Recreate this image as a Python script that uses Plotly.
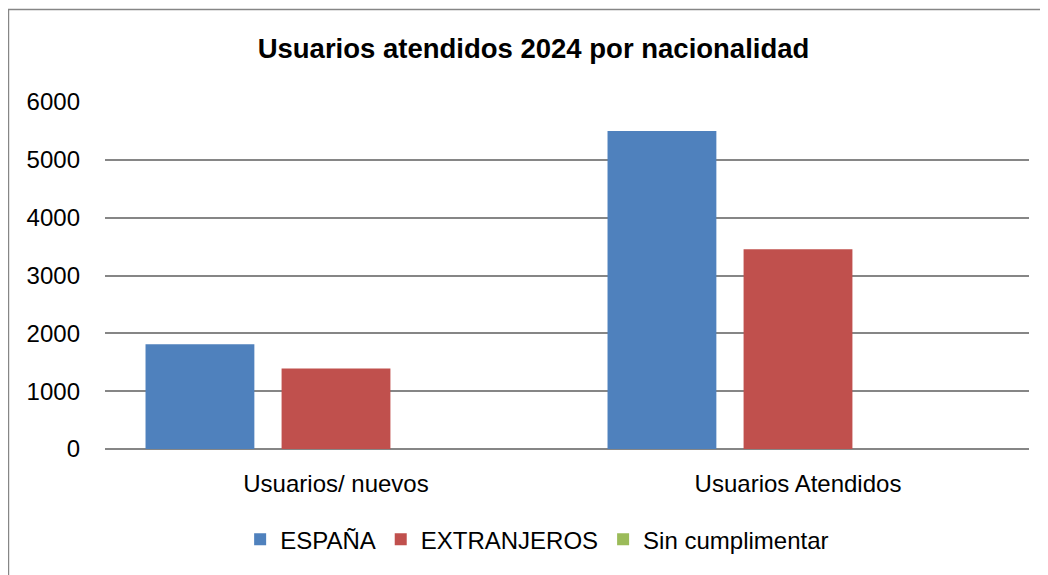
import plotly.graph_objects as go

categories = ["Usuarios/ nuevos", "Usuarios Atendidos"]
series_names = ["ESPAÑA", "EXTRANJEROS", "Sin cumplimentar"]
espana = [1810, 5500]
extranjeros = [1390, 3455]
sin_cumplimentar = [0, 0]
y_ticks = [0, 1000, 2000, 3000, 4000, 5000, 6000]

colors = ["#4F81BD", "#C0504D", "#9BBB59"]
FONT = "Liberation Sans, Arial, sans-serif"

fig = go.Figure()
for name, vals, col in zip(series_names, [espana, extranjeros, sin_cumplimentar], colors):
    fig.add_trace(go.Bar(x=categories, y=vals, name=name, marker=dict(color=col, line=dict(width=0))))

# page body has an 8px margin, so figure coordinates are shifted by 8px
OFF = 8
W, H = 1048, 575
L = 105 - OFF
T = 102 - OFF
R = W - (1028.7 - OFF)
B = H - (449.3 - OFF)
pw = W - L - R
ph = H - T - B
bottom = H - B

fig.update_layout(
    width=W, height=H,
    margin=dict(l=L, r=R, t=T, b=B, pad=0),
    paper_bgcolor="white", plot_bgcolor="white",
    barmode="group", bargap=0.1165, bargroupgap=0.2,
    font=dict(family=FONT, size=24, color="#000000"),
    title=dict(text="<b>Usuarios atendidos 2024 por nacionalidad</b>",
               x=(533.5 - OFF) / W, xanchor="center", xref="container",
               y=1 - (48 - OFF) / H, yanchor="middle", yref="container",
               font=dict(family=FONT, size=27.5, color="#000000")),
    showlegend=True,
    legend=dict(orientation="h", x=(537 - OFF - L) / pw, xanchor="center",
                y=(bottom - (540 - OFF)) / ph, yanchor="middle",
                font=dict(family=FONT, size=24, color="#000000"),
                traceorder="normal", itemwidth=30),
    xaxis=dict(showgrid=False, showline=False, ticks="", ticklabelstandoff=18,
               tickfont=dict(family=FONT, size=24)),
    yaxis=dict(range=[0, 6000], tickvals=y_ticks, showgrid=True, gridcolor="#868686",
               gridwidth=1.5, zeroline=True, zerolinecolor="#868686", zerolinewidth=1.5,
               showline=False, ticks="", ticklabelstandoff=24,
               tickfont=dict(family=FONT, size=24)),
)

# chart border (clipped at right and bottom like the reference)
fig.add_shape(type="rect", xref="paper", yref="paper",
              x0=(8.5 - OFF - L) / pw, x1=(W + 40 - L) / pw,
              y0=(bottom - (H + 40)) / ph, y1=(bottom - (9.5 - OFF)) / ph,
              line=dict(color="#868686", width=1.5), fillcolor="rgba(0,0,0,0)", layer="below")

fig.write_html("out.html")
